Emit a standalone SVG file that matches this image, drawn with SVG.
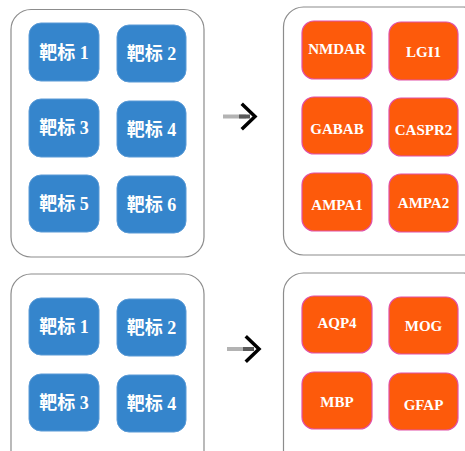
<svg xmlns="http://www.w3.org/2000/svg" width="465" height="451" viewBox="0 0 465 451">
  <style>
    .panel { fill: #ffffff; stroke: #8c8c8c; stroke-width: 1.2; }
    .target rect { fill: #3585cc; stroke: #5a9ad6; stroke-width: 1; }
    .antigen rect { fill: #fd5a0b; stroke: #e150a8; stroke-width: 1.2; }
    .target text { fill: #ffffff; font-family: "Liberation Serif", "Noto Sans CJK SC", serif; font-weight: bold; font-size: 18px; text-anchor: middle; }
    .antigen text { fill: #ffffff; font-family: "Liberation Serif", serif; font-weight: bold; font-size: 15px; text-anchor: middle; }
    .shaft { stroke: #b3b3b3; stroke-width: 4; fill: none; }
    .shaft-tip { stroke: #5a5a5a; stroke-width: 4; fill: none; }
    .head { stroke: #000000; stroke-width: 3.5; fill: none; stroke-linecap: square; stroke-linejoin: miter; }
  </style>

  <!-- panels -->
  <rect class="panel" x="11" y="9.5" width="193" height="247.5" rx="20"/>
  <rect class="panel" x="283.5" y="7" width="200" height="248" rx="20"/>
  <rect class="panel" x="11" y="274" width="193" height="200" rx="20"/>
  <rect class="panel" x="283.5" y="273" width="200" height="200" rx="20"/>

  <!-- upper group: targets -->
  <g id="t1" class="target"><rect x="29" y="23" width="70" height="58" rx="12"/><text x="64" y="58.5">靶标 1</text></g>
  <g id="t2" class="target"><rect x="117" y="25" width="69" height="57" rx="12"/><text x="151.5" y="59.5">靶标 2</text></g>
  <g id="t3" class="target"><rect x="29" y="99" width="70" height="58" rx="12"/><text x="64" y="134">靶标 3</text></g>
  <g id="t4" class="target"><rect x="117" y="101" width="69" height="56" rx="12"/><text x="151.5" y="135.5">靶标 4</text></g>
  <g id="t5" class="target"><rect x="29" y="175" width="70" height="57" rx="12"/><text x="64" y="209.5">靶标 5</text></g>
  <g id="t6" class="target"><rect x="117" y="176" width="69" height="57" rx="12"/><text x="151.5" y="211">靶标 6</text></g>

  <!-- upper group: antigens -->
  <g id="a-nmdar" class="antigen"><rect x="302" y="21" width="70" height="58" rx="12"/><text x="337" y="54">NMDAR</text></g>
  <g id="a-lgi1" class="antigen"><rect x="389" y="22" width="69" height="58" rx="12"/><text x="423.5" y="57">LGI1</text></g>
  <g id="a-gabab" class="antigen"><rect x="302" y="97" width="70" height="57" rx="12"/><text x="337" y="133.5">GABAB</text></g>
  <g id="a-caspr2" class="antigen"><rect x="389" y="98" width="69" height="58" rx="12"/><text x="423.5" y="134.5">CASPR2</text></g>
  <g id="a-ampa1" class="antigen"><rect x="302" y="173" width="70" height="58" rx="12"/><text x="337" y="209.5">AMPA1</text></g>
  <g id="a-ampa2" class="antigen"><rect x="389" y="174" width="69" height="58" rx="12"/><text x="423.5" y="208">AMPA2</text></g>

  <!-- lower group: targets -->
  <g id="t1b" class="target"><rect x="29" y="298" width="70" height="57" rx="12"/><text x="64" y="333">靶标 1</text></g>
  <g id="t2b" class="target"><rect x="117" y="299" width="69" height="57" rx="12"/><text x="151.5" y="334">靶标 2</text></g>
  <g id="t3b" class="target"><rect x="29" y="374" width="70" height="57" rx="12"/><text x="64" y="409">靶标 3</text></g>
  <g id="t4b" class="target"><rect x="117" y="375" width="69" height="57" rx="12"/><text x="151.5" y="410">靶标 4</text></g>

  <!-- lower group: antigens -->
  <g id="a-aqp4" class="antigen"><rect x="302" y="296" width="70" height="57" rx="12"/><text x="337" y="327.5">AQP4</text></g>
  <g id="a-mog" class="antigen"><rect x="389" y="297" width="69" height="57" rx="12"/><text x="423.5" y="330.5">MOG</text></g>
  <g id="a-mbp" class="antigen"><rect x="302" y="372" width="70" height="57" rx="12"/><text x="337" y="407">MBP</text></g>
  <g id="a-gfap" class="antigen"><rect x="389" y="373" width="69" height="57" rx="12"/><text x="423.5" y="410">GFAP</text></g>

  <!-- connectors -->
  <g id="connectors">
    <line class="shaft" x1="223" y1="116.5" x2="246" y2="116.5"/>
    <line class="shaft-tip" x1="239" y1="116.5" x2="250" y2="116.5"/>
    <polyline class="head" points="243,105 255,116.5 243,128"/>
    <line class="shaft" x1="227" y1="349" x2="250" y2="349"/>
    <line class="shaft-tip" x1="243" y1="349" x2="254" y2="349"/>
    <polyline class="head" points="247,337.5 259,349 247,360.5"/>
  </g>
</svg>
